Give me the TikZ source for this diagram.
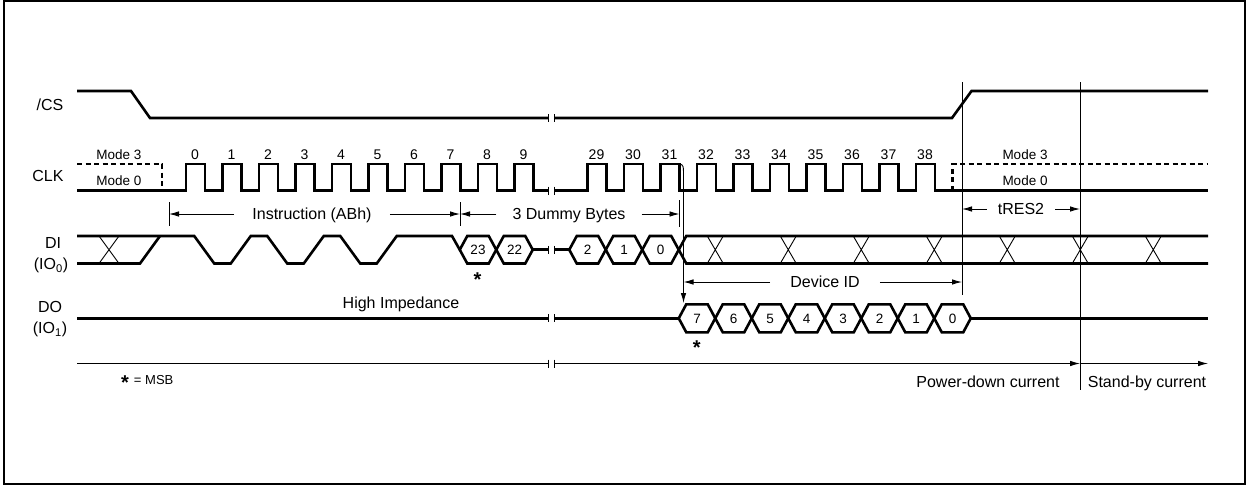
\documentclass[tikz,border=0pt]{standalone}
\usepackage{fontspec}
\setmainfont{Liberation Sans}
\usetikzlibrary{arrows.meta}

\begin{document}
\begin{tikzpicture}[x=1pt, y=-1pt,
        wave/.style={line width=2.6pt, line join=miter},
        fine/.style={line width=0.9pt},
        modeline/.style={line width=2.6pt, dash pattern=on 5pt off 3.5pt},
        arr/.style={fine, -{Latex[length=10pt, width=5.5pt]}},
        sig/.style={font=\fontsize{16}{18}\selectfont, inner sep=0pt, text height=11.5pt, text depth=0pt},
        lbl/.style={font=\fontsize{16}{18}\selectfont, inner sep=0pt, text height=11.5pt, text depth=0pt},
        modelbl/.style={font=\fontsize{13.5}{15}\selectfont, inner sep=0pt, text height=9.7pt, text depth=0pt},
        numlbl/.style={font=\fontsize{14}{16}\selectfont, inner sep=0pt, text height=10pt, text depth=0pt},
        hexlbl/.style={font=\fontsize{13.5}{15}\selectfont, inner sep=0pt, text height=9.7pt, text depth=0pt},
        asterisk/.style={font=\bfseries\fontsize{20}{20}\selectfont, inner sep=0pt}
    ]
    \useasboundingbox (0,0) rectangle (1246,485);
    \draw[line width=2pt] (4,1) rectangle (1244.5,483.5);

    % signal names
    \node[sig] (cs) at (50,104.5) {/CS};
    \node[sig] (clk) at (48,176) {CLK};
    \node[sig] (di) at (53,243) {DI};
    \node[sig] (diio) at (51,264) {(IO\textsubscript{0})};
    \node[sig] (dout) at (50,307) {DO};
    \node[sig] (doutio) at (50,328) {(IO\textsubscript{1})};

    % /CS
    \draw[wave] (77,91) -- (131,91) -- (150,118) -- (548.3,118);
    \draw[wave] (554.3,118) -- (952,118) -- (971.5,91) -- (1208,91);

    % CLK
    \draw[modeline] (77,164) -- (162,164) -- (162,190.7);
    \draw[wave] (77,190.7) \foreach \p in {0,...,9} { -- ({186+36.5*\p},190.7) -- ++(0,-26.7) -- ++(19,0) -- ++(0,26.7) } -- (548.3,190.7);
    \draw[wave] (554.3,190.7) \foreach \p in {11,...,20} { -- ({186+36.5*\p},190.7) -- ++(0,-26.7) -- ++(19,0) -- ++(0,26.7) } -- (1208,190.7);
    \draw[modeline] (952.7,190.7) -- (952.7,164) -- (1208,164);
    \foreach \p/\n in {0/0,1/1,2/2,3/3,4/4,5/5,6/6,7/7,8/8,9/9,11/29,12/30,13/31,14/32,15/33,16/34,17/35,18/36,19/37,20/38}
        \node[numlbl] (ck\n) at ({195+36.5*\p},154) {\n};
    \node[modelbl] (mthreea) at (119,155) {Mode 3};
    \node[modelbl] (mzeroa) at (119,181) {Mode 0};
    \node[modelbl] (mthreeb) at (1025,155) {Mode 3};
    \node[modelbl] (mzerob) at (1025,181) {Mode 0};

    % break marks
    \foreach \y in {118,190.7,249.75,318.3,363.5}
        \draw[fine] (548.3,\y-4) -- ++(0,8) (554.3,\y-4) -- ++(0,8);

    % markers
    \coordinate (vonet) at (962,82);
    \coordinate (voneb) at (962,295);
    \coordinate (vtwot) at (1080,82);
    \coordinate (vtwob) at (1080,390);
    \draw[fine] (vonet) -- (voneb);
    \draw[fine] (vtwot) -- (vtwob);

    % phases
    \draw[fine] (169,202) -- (169,226);
    \draw[fine] (460,202) -- (460,226);
    \draw[fine] (679.5,200) -- (679.5,227);
    \node[lbl, inner xsep=18pt] (instr) at (312,214) {Instruction (ABh)};
    \draw[arr] (instr.west) -- (169,214);
    \draw[arr] (instr.east) -- (460,214);
    \node[lbl, inner xsep=16pt] (dummy) at (569,214) {3 Dummy Bytes};
    \draw[arr] (dummy.west) -- (460,214);
    \draw[arr] (dummy.east) -- (679.5,214);
    \node[lbl, inner xsep=11pt] (tres) at (1021,209) {tRES2};
    \draw[arr] (tres.west) -- (962,209);
    \draw[arr] (tres.east) -- (1080,209);

    % DI
    \draw[wave] (77,236) -- (194.25,236) -- (214.25,263.5) -- (230.75,263.5) -- (250.75,236) -- (267.25,236) -- (287.25,263.5) -- (303.75,263.5) -- (323.75,236) -- (340.25,236) -- (360.25,263.5) -- (376.75,263.5) -- (396.75,236) -- (452,236) -- (459.75,249.75);
    \draw[wave] (77,263.5) -- (140,263.5) -- (160,236);
    \draw[fine] (99,236) -- (119,263.5) (99,263.5) -- (119,236);
    \foreach \x/\n in {459.75/23, 496.25/22, 569.25/2, 605.75/1, 642.25/0} {
        \draw[wave] (\x,249.75) -- ++(7.5,-13.75) -- ++(21.5,0) -- ++(7.5,13.75) -- ++(-7.5,13.75) -- ++(-21.5,0) -- cycle;
        \node[hexlbl] (di\n) at (\x+18.25,249.75) {\n};
    }
    \draw[wave] (532.75,249.75) -- (548.3,249.75);
    \draw[wave] (554.3,249.75) -- (569.25,249.75);
    \draw[wave] (1208,236) -- (686.25,236) -- (678.75,249.75) -- (686.25,263.5) -- (1208,263.5);
    \foreach \c in {715.25,788.25,861.25,934.25,1007.25,1080.25,1153.25}
        \draw[fine] (\c-8,236) -- (\c+8,263.5) (\c-8,263.5) -- (\c+8,236);
    \node[asterisk] (msbdi) at (477.5,279.5) {*};

    % DO
    \draw[wave] (77,318.3) -- (548.3,318.3);
    \draw[wave] (554.3,318.3) -- (678.75,318.3);
    \draw[wave] (970.75,318.3) -- (1208,318.3);
    \foreach \k [evaluate=\k as \x using 678.75+36.5*\k, evaluate=\k as \n using int(7-\k)] in {0,...,7} {
        \draw[wave] (\x,318.3) -- ++(7.5,-14) -- ++(21.5,0) -- ++(7.5,14) -- ++(-7.5,14) -- ++(-21.5,0) -- cycle;
        \node[hexlbl] (do\n) at (\x+18.25,318.3) {\n};
    }
    \node[asterisk] (msbdo) at (696.7,347.5) {*};
    \node[lbl] (hiz) at (401,303) {High Impedance};

    % clock to output
    \coordinate (fall) at (679.5,164);
    \coordinate (dseven) at (683.5,303);
    \draw[arr] (fall) .. controls (683.5,165) .. (683.5,178) -- (dseven);
    \node[lbl, inner xsep=20pt] (devid) at (825,282) {Device ID};
    \draw[arr] (devid.west) -- (683.5,282);
    \draw[arr] (devid.east) -- (962,282);

    % current
    \coordinate (pd) at (1080,363.5);
    \draw[fine] (77,363.5) -- (548.3,363.5);
    \draw[arr] (554.3,363.5) -- (pd);
    \draw[arr] (pd) -- (1208,363.5);
    \node[lbl] (pdc) at (988,382) {Power-down current};
    \node[lbl] (sbc) at (1147,382) {Stand-by current};
    \node[modelbl, anchor=west] (msb) at (121,379.3) {{\bfseries\fontsize{20}{20}\selectfont\raisebox{-0.27em}{*}}\hspace{5pt}{\fontsize{13}{15}\selectfont = MSB}};
\end{tikzpicture}
\end{document}
